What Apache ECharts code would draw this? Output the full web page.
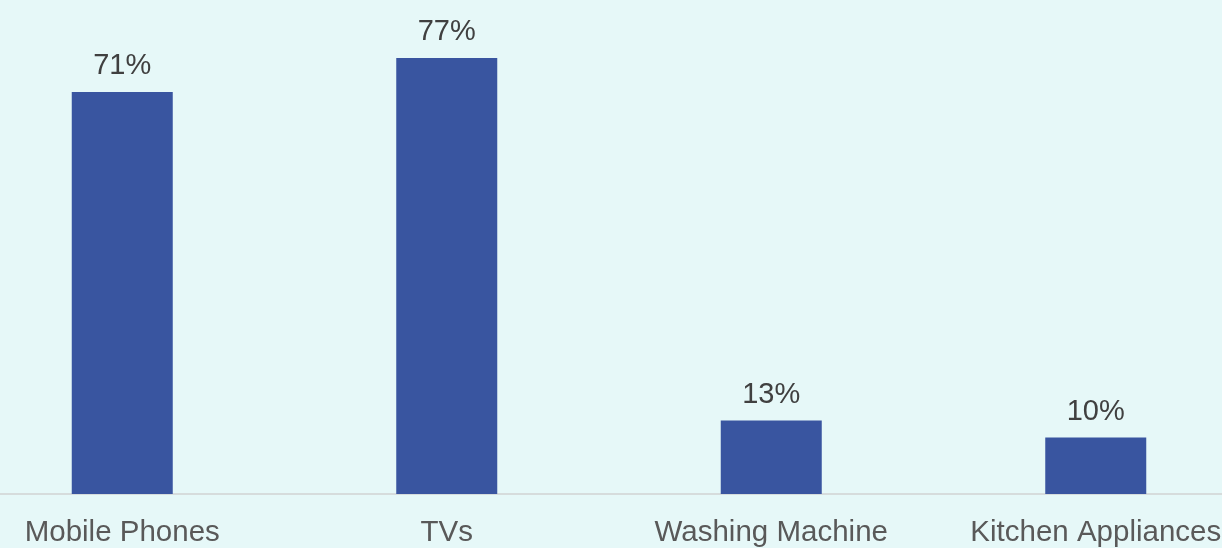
<!DOCTYPE html>
<html>
<head>
<meta charset="utf-8">
<style>
  html, body { margin: 0; padding: 0; background: #e6f8f8; overflow: hidden; }
  #wrap { width: 1222px; height: 548px; overflow: hidden; position: relative; }
  /* plot is a little wider than the page so the outer categories sit close to the edges */
  #chart { width: 1298px; height: 548px; position: absolute; left: -40px; top: 0; }
</style>
<script src="https://cdn.jsdelivr.net/npm/echarts@6/dist/echarts.min.js"></script>
</head>
<body>
<div id="wrap"><div id="chart"></div></div>
<script>
// Share of purchases by product category (%)
const categories = ['Mobile Phones', 'TVs', 'Washing Machine', 'Kitchen Appliances'];
const shares = [71, 77, 13, 10];

const chart = echarts.init(document.getElementById('chart'));
chart.setOption({
  backgroundColor: '#e6f8f8',
  animation: false,
  grid: { left: 0, right: 0, top: 41, height: 454, containLabel: false },
  xAxis: {
    type: 'category',
    data: categories,
    axisTick: { show: false },
    axisLine: { lineStyle: { color: '#d6dcdc', width: 2 } },
    axisLabel: {
      color: '#595959',
      fontFamily: 'Liberation Sans, Arial, sans-serif',
      fontSize: 29.5,
      margin: 24,
      interval: 0
    }
  },
  yAxis: {
    type: 'value',
    min: 0,
    max: 80,
    show: false,
    splitLine: { show: false }
  },
  series: [{
    type: 'bar',
    data: shares,
    barWidth: 101,
    itemStyle: { color: '#3955a0' },
    label: {
      show: true,
      position: 'top',
      distance: 11,
      formatter: p => p.value + '%',
      color: '#404040',
      fontFamily: 'Liberation Sans, Arial, sans-serif',
      fontSize: 29
    }
  }]
});
</script>
</body>
</html>
